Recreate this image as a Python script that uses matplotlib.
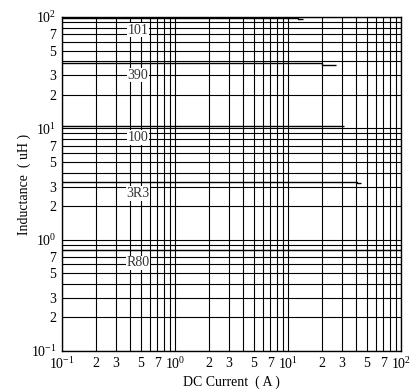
import numpy as np
import matplotlib
matplotlib.use("Agg")
import matplotlib.pyplot as plt
from matplotlib.ticker import FixedLocator, FixedFormatter, NullLocator

plt.rcParams['font.family'] = ['Liberation Serif', 'DejaVu Serif']
plt.rcParams['mathtext.fontset'] = 'custom'
plt.rcParams['mathtext.rm'] = 'Liberation Serif'
plt.rcParams['mathtext.it'] = 'Liberation Serif'

# inductance vs DC current curves (A, uH)
part_names = ["101", "390", "100", "3R3", "R80"]
cur_101 = [0.1, 12.2, 12.2, 13.6]
ind_101 = [98, 98, 96.5, 96.5]
cur_390 = [0.1, 19.9, 19.9, 26.6]
ind_390 = [38.5, 38.5, 37.0, 37.0]
cur_100 = [0.1, 27.0, 27.0, 31.3]
ind_100 = [10.6, 10.6, 10.4, 10.4]
cur_3r3 = [0.1, 40.5, 40.5, 44.3]
ind_3r3 = [3.3, 3.3, 3.22, 3.22]
cur_r80 = [0.1, 100]
ind_r80 = [0.8, 0.8]
label_y = [76, 30, 8.3, 2.6, 0.62]

decades = [0.1, 1, 10]
mults = [2, 3, 4, 5, 6, 7, 8, 9]
labelled = [2, 3, 5, 7]


def grid_vals():
    vals = []
    for d in decades:
        vals.append(d)
        vals += [d * m for m in mults]
    vals.append(100)
    return vals


def tick_labels():
    pos, txt = [], []
    for d in decades:
        pos.append(d)
        txt.append(r'$10^{%d}$' % int(round(np.log10(d))))
        for m in labelled:
            pos.append(d * m)
            txt.append(str(m))
    pos.append(100)
    txt.append(r'$10^{2}$')
    return pos, txt


fig = plt.figure(figsize=(4.17, 3.92), dpi=100)
ax = fig.add_axes([0.1487, 0.1046, 0.8129, 0.852])
ax.set_xscale('log')
ax.set_yscale('log')
ax.set_xlim(0.1, 100)
ax.set_ylim(0.1, 100)

for v in grid_vals():
    ax.axvline(v, color='black', lw=0.8, zorder=1)
    ax.axhline(v, color='black', lw=0.8, zorder=1)

curves = [(cur_101, ind_101), (cur_390, ind_390), (cur_100, ind_100),
          (cur_3r3, ind_3r3), (cur_r80, ind_r80)]
for (c, l) in curves:
    ax.plot(c, l, color='black', lw=1.0, zorder=2, solid_capstyle='butt')

for name, ly in zip(part_names, label_y):
    ax.text(0.47, ly, name, ha='center', va='center', fontsize=10, color='#333333',
            zorder=3, bbox=dict(facecolor='white', edgecolor='none', pad=0.5))

pos, txt = tick_labels()
for axis in (ax.xaxis, ax.yaxis):
    axis.set_major_locator(FixedLocator(pos))
    axis.set_major_formatter(FixedFormatter(txt))
    axis.set_minor_locator(NullLocator())
ax.tick_params(length=0, labelsize=10, pad=4)

ax.set_xlabel("DC Current  ( A )", fontsize=10, labelpad=2)
ax.set_ylabel("Inductance  ( uH )", fontsize=10, labelpad=0)
for s in ax.spines.values():
    s.set_linewidth(1.0)

fig.savefig("out.png", dpi=100)
